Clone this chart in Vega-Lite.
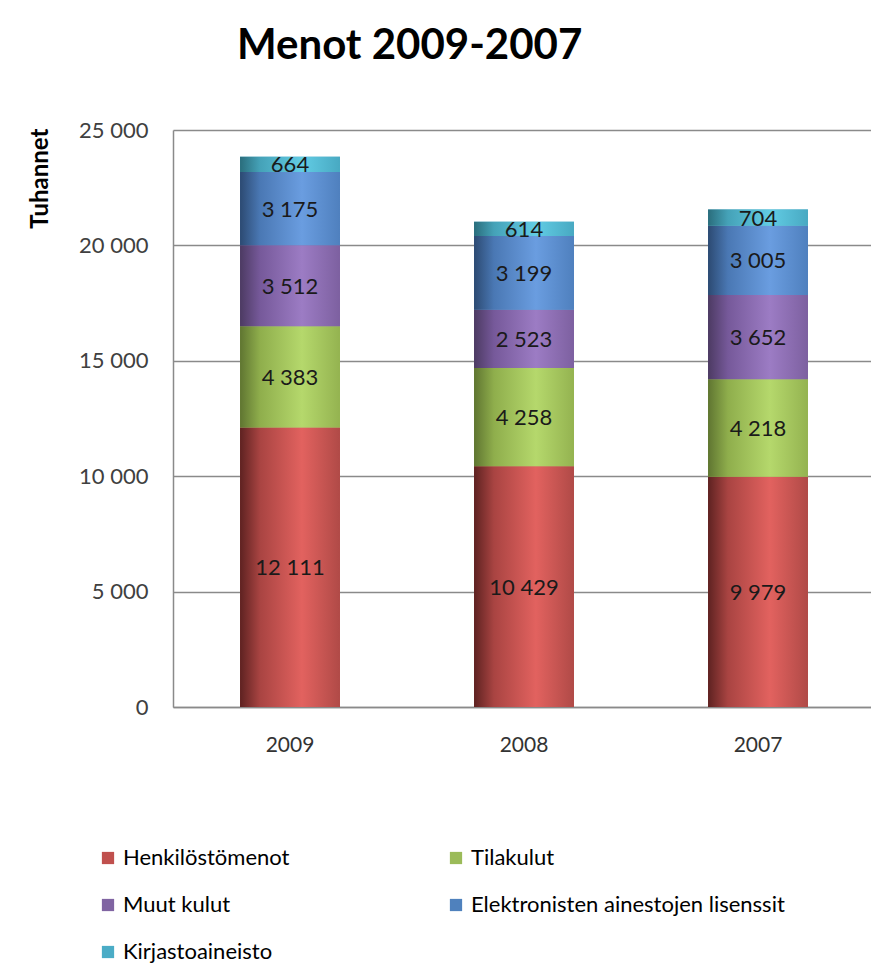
{
  "$schema": "https://vega.github.io/schema/vega-lite/v6.json",
  "autosize": {"type": "none"},
  "padding": {"left": 173, "top": 130, "right": 0, "bottom": 272},
  "width": 702,
  "height": 577,
  "background": "white",
  "title": {
    "text": "Menot 2009-2007",
    "anchor": "start",
    "frame": "group",
    "dx": 64,
    "offset": 18,
    "baseline": "alphabetic",
    "fontSize": 42,
    "fontWeight": "bold",
    "font": "Lato",
    "color": "#000000"
  },
  "config": {
    "font": "Lato",
    "view": {"stroke": null},
    "locale": {"number": {"decimal": ",", "thousands": " ", "grouping": [3], "currency": ["", " €"]}}
  },
  "data": {
    "values": [
      {"year": "2009", "category": "Henkilöstömenot", "order": 1, "value": 12111},
      {"year": "2009", "category": "Tilakulut", "order": 2, "value": 4383},
      {"year": "2009", "category": "Muut kulut", "order": 3, "value": 3512},
      {"year": "2009", "category": "Elektronisten  ainestojen lisenssit", "order": 4, "value": 3175},
      {"year": "2009", "category": "Kirjastoaineisto", "order": 5, "value": 664},
      {"year": "2008", "category": "Henkilöstömenot", "order": 1, "value": 10429},
      {"year": "2008", "category": "Tilakulut", "order": 2, "value": 4258},
      {"year": "2008", "category": "Muut kulut", "order": 3, "value": 2523},
      {"year": "2008", "category": "Elektronisten  ainestojen lisenssit", "order": 4, "value": 3199},
      {"year": "2008", "category": "Kirjastoaineisto", "order": 5, "value": 614},
      {"year": "2007", "category": "Henkilöstömenot", "order": 1, "value": 9979},
      {"year": "2007", "category": "Tilakulut", "order": 2, "value": 4218},
      {"year": "2007", "category": "Muut kulut", "order": 3, "value": 3652},
      {"year": "2007", "category": "Elektronisten  ainestojen lisenssit", "order": 4, "value": 3005},
      {"year": "2007", "category": "Kirjastoaineisto", "order": 5, "value": 704}
    ]
  },
  "transform": [
    {"stack": "value", "groupby": ["year"], "sort": [{"field": "order", "order": "ascending"}], "as": ["v0", "v1"]},
    {"calculate": "(datum.v0 + datum.v1) / 2", "as": "mid"}
  ],
  "encoding": {
    "x": {
      "field": "year",
      "type": "nominal",
      "sort": ["2009", "2008", "2007"],
      "scale": {"paddingInner": 0.573, "paddingOuter": 0.2865},
      "axis": {
        "title": null,
        "labelAngle": 0,
        "labelFontSize": 21,
        "labelColor": "#333333",
        "labelPadding": 27,
        "ticks": false,
        "domainColor": "#8a8a8a",
        "domainWidth": 1.5
      }
    }
  },
  "layer": [
    {
      "mark": {"type": "bar"},
      "encoding": {
        "y": {
          "field": "v0",
          "type": "quantitative",
          "scale": {"domain": [0, 25000], "nice": false},
          "axis": {
            "values": [0, 5000, 10000, 15000, 20000, 25000],
            "format": ",d",
            "title": "Tuhannet",
            "titleFontSize": 24,
            "titleFontWeight": "bold",
            "titleColor": "#000000",
            "titleAngle": -90,
            "titleAlign": "right",
            "titleBaseline": "middle",
            "titleX": -133,
            "titleY": -2,
            "labelFontSize": 22,
            "labelColor": "#404040",
            "labelPadding": 25,
            "ticks": false,
            "grid": true,
            "gridColor": "#8a8a8a",
            "gridWidth": 1.5,
            "domainColor": "#8a8a8a",
            "domainWidth": 1.5
          }
        },
        "y2": {"field": "v1"},
        "color": {
          "field": "category",
          "type": "nominal",
          "scale": {
            "domain": ["Henkilöstömenot", "Tilakulut", "Muut kulut", "Elektronisten  ainestojen lisenssit", "Kirjastoaineisto"],
            "range": ["#c0504d", "#9bbb59", "#8064a2", "#4f81bd", "#4bacc6"]
          },
          "legend": {
            "title": null,
            "orient": "none",
            "legendX": -76,
            "legendY": 717,
            "direction": "horizontal",
            "columns": 2,
            "columnPadding": 155,
            "rowPadding": 25,
            "symbolType": "square",
            "symbolSize": 150,
            "symbolStrokeWidth": 0,
            "labelFontSize": 22,
            "labelColor": "#000000",
            "labelOffset": 4,
            "labelLimit": 400
          }
        }
      }
    },
    {
      "transform": [{"filter": "datum.category == 'Henkilöstömenot'"}],
      "mark": {"type": "bar", "fill": {"gradient": "linear", "x1": 0, "y1": 0, "x2": 1, "y2": 0, "stops": [
        {"offset": 0, "color": "#5e2221"}, {"offset": 0.2, "color": "#a94442"}, {"offset": 0.62, "color": "#e2625f"}, {"offset": 1, "color": "#b04a47"}]}},
      "encoding": {"y": {"field": "v0", "type": "quantitative"}, "y2": {"field": "v1"}}
    },
    {
      "transform": [{"filter": "datum.category == 'Tilakulut'"}],
      "mark": {"type": "bar", "fill": {"gradient": "linear", "x1": 0, "y1": 0, "x2": 1, "y2": 0, "stops": [
        {"offset": 0, "color": "#5f7531"}, {"offset": 0.2, "color": "#8fae4c"}, {"offset": 0.62, "color": "#b5d86c"}, {"offset": 1, "color": "#94b350"}]}},
      "encoding": {"y": {"field": "v0", "type": "quantitative"}, "y2": {"field": "v1"}}
    },
    {
      "transform": [{"filter": "datum.category == 'Muut kulut'"}],
      "mark": {"type": "bar", "fill": {"gradient": "linear", "x1": 0, "y1": 0, "x2": 1, "y2": 0, "stops": [
        {"offset": 0, "color": "#4c3a62"}, {"offset": 0.2, "color": "#76599a"}, {"offset": 0.62, "color": "#9c7cc4"}, {"offset": 1, "color": "#7d60a0"}]}},
      "encoding": {"y": {"field": "v0", "type": "quantitative"}, "y2": {"field": "v1"}}
    },
    {
      "transform": [{"filter": "datum.category == 'Elektronisten  ainestojen lisenssit'"}],
      "mark": {"type": "bar", "fill": {"gradient": "linear", "x1": 0, "y1": 0, "x2": 1, "y2": 0, "stops": [
        {"offset": 0, "color": "#2c4a72"}, {"offset": 0.2, "color": "#4a78b4"}, {"offset": 0.62, "color": "#6a9de0"}, {"offset": 1, "color": "#4f80be"}]}},
      "encoding": {"y": {"field": "v0", "type": "quantitative"}, "y2": {"field": "v1"}}
    },
    {
      "transform": [{"filter": "datum.category == 'Kirjastoaineisto'"}],
      "mark": {"type": "bar", "fill": {"gradient": "linear", "x1": 0, "y1": 0, "x2": 1, "y2": 0, "stops": [
        {"offset": 0, "color": "#2a6d7c"}, {"offset": 0.2, "color": "#45a2b8"}, {"offset": 0.62, "color": "#62cce4"}, {"offset": 1, "color": "#48a9c2"}]}},
      "encoding": {"y": {"field": "v0", "type": "quantitative"}, "y2": {"field": "v1"}}
    },
    {
      "mark": {"type": "text", "fontSize": 22, "color": "#1a1a1a", "baseline": "middle", "dy": 1},
      "encoding": {
        "y": {"field": "mid", "type": "quantitative"},
        "text": {"field": "value", "type": "quantitative", "format": ",d"}
      }
    }
  ]
}
